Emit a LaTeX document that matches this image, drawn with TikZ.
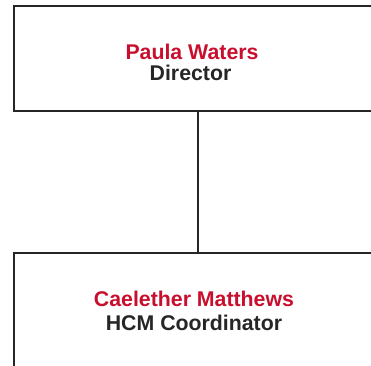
\documentclass[tikz,border=0pt]{standalone}
\usepackage{fontspec}
\setmainfont{Liberation Sans}
\definecolor{namered}{HTML}{C8102E}
\definecolor{ink}{HTML}{262626}
\tikzset{
  box/.style={draw=ink, line width=2.5pt, rectangle, inner sep=0pt},
  nametext/.style={font=\fontsize{21.3}{24}\selectfont\bfseries, text=namered, anchor=base, inner sep=0pt},
  roletext/.style={font=\fontsize{21.3}{24}\selectfont\bfseries, text=ink, anchor=base, inner sep=0pt},
  link/.style={draw=ink, line width=2.5pt}
}
\begin{document}
\begin{tikzpicture}[x=1pt,y=1pt]
\useasboundingbox (0,0) rectangle (371,365);
\clip (0,0) rectangle (371,365);
\fill[white] (0,0) rectangle (371,365);
\node[box, minimum width=370pt, minimum height=105pt] (top) at (199,306.5) {};
\node[box, minimum width=370pt, minimum height=125pt] (bot) at (199,49.5) {};
\coordinate (conn) at (198,0);
\draw[link] (top.south -| conn) -- (bot.north -| conn);
\node[nametext] (n1) at (192,306) {Paula Waters};
\node[roletext] (r1) at (190.5,284.3) {Director};
\node[nametext] (n2) at (194,58.3) {Caelether Matthews};
\node[roletext] (r2) at (194,34.3) {HCM Coordinator};
\end{tikzpicture}
\end{document}
